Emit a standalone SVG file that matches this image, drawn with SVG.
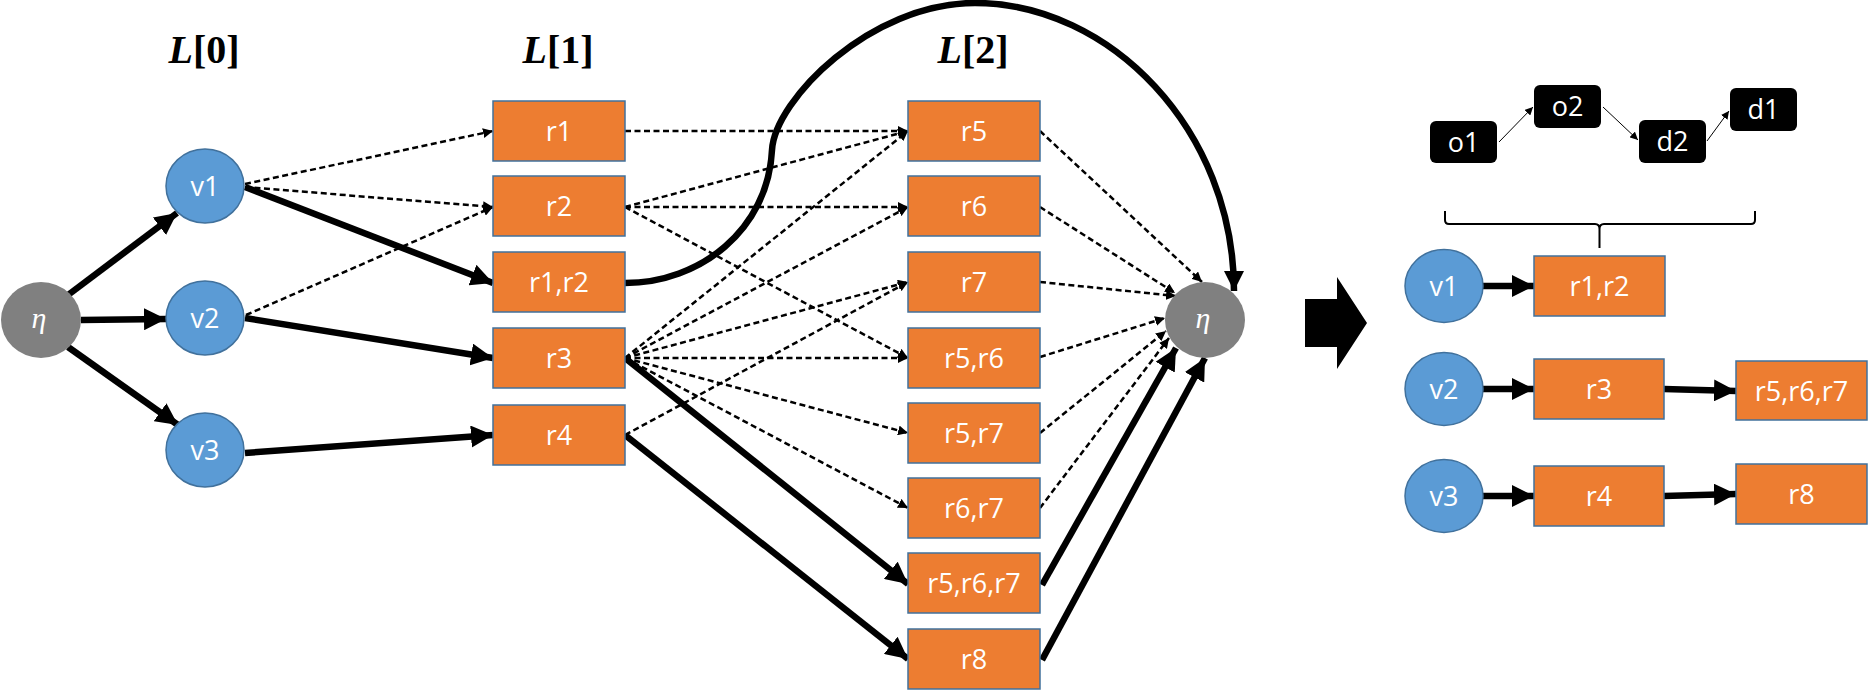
<svg xmlns="http://www.w3.org/2000/svg" width="1868" height="698" viewBox="0 0 1868 698">
<style>
.lbl{font-family:"Open Sans","Liberation Sans",sans-serif;font-size:27px;fill:#fff;text-anchor:middle}
.eta{font-family:"Liberation Serif",serif;font-style:italic;font-size:30px;fill:#fff;text-anchor:middle}
.lev{font-family:"Liberation Serif",serif;font-weight:bold;font-size:40px;fill:#000;text-anchor:middle}
.box{fill:#ED7D31;stroke:#41719C;stroke-width:1.5}
.vtx{fill:#5B9BD5;stroke:#41719C;stroke-width:1.5}
.sink{fill:#808080}
.blk{fill:#000}
.thick{fill:none;stroke:#000;stroke-width:6.5;marker-end:url(#mThick)}
.dash{fill:none;stroke:#000;stroke-width:2.5;stroke-dasharray:6 3.5;marker-end:url(#mDash)}
.thin{fill:none;stroke:#000;stroke-width:1;marker-end:url(#mThin)}
.curve{fill:none;stroke:#000;stroke-width:6.5;marker-end:url(#mCurve)}
</style>
<defs>
<marker id="mThick" markerUnits="userSpaceOnUse" viewBox="0 0 22 22" refX="22" refY="11" markerWidth="22" markerHeight="22" orient="auto"><path d="M0,0 L22,11 L0,22 z" fill="#000"/></marker>
<marker id="mCurve" markerUnits="userSpaceOnUse" viewBox="0 0 20 20" refX="20" refY="10" markerWidth="20" markerHeight="20" orient="auto"><path d="M0,0 L20,10 L0,20 z" fill="#000"/></marker>
<marker id="mDash" markerUnits="userSpaceOnUse" viewBox="0 0 10 10" refX="10" refY="5" markerWidth="10" markerHeight="10" orient="auto"><path d="M0,0 L10,5 L0,10 z" fill="#000"/></marker>
<marker id="mThin" markerUnits="userSpaceOnUse" viewBox="0 0 8 8" refX="8" refY="4" markerWidth="8" markerHeight="8" orient="auto"><path d="M0,0 L8,4 L0,8 z" fill="#000"/></marker>
</defs>
<rect width="1868" height="698" fill="#fff"/>

<g id="levels">
<text class="lev" x="204" y="63"><tspan font-style="italic">L</tspan>[0]</text>
<text class="lev" x="558" y="63"><tspan font-style="italic">L</tspan>[1]</text>
<text class="lev" x="973" y="63"><tspan font-style="italic">L</tspan>[2]</text>
</g>

<g id="connectors">
<path class="thick" d="M68,295 L177,213"/>
<path class="thick" d="M81,320 L166,319"/>
<path class="thick" d="M68,347 L178,425"/>
<path class="thick" d="M245,187 L493,283"/>
<path class="thick" d="M245,318 L493,358"/>
<path class="thick" d="M245,453 L493,435"/>
<path class="dash" d="M245,184 L493,131"/>
<path class="dash" d="M245,187 L493,207"/>
<path class="dash" d="M246,315 L493,207"/>
<path class="dash" d="M625,131 L908,131"/>
<path class="dash" d="M625,207 L908,131"/>
<path class="dash" d="M625,207 L908,207"/>
<path class="dash" d="M625,207 L908,358"/>
<path class="dash" d="M625,358 L908,131"/>
<path class="dash" d="M625,358 L908,207"/>
<path class="dash" d="M625,358 L908,282"/>
<path class="dash" d="M625,435 L908,282"/>
<path class="dash" d="M625,358 L908,358"/>
<path class="dash" d="M625,358 L908,433"/>
<path class="dash" d="M625,358 L908,508"/>
<path class="thick" d="M625,358 L908,584"/>
<path class="thick" d="M625,435 L908,659"/>
<path class="curve" d="M625,283 C700,283 768,230 772,150 C775,100 870,3 975,3 C1110,3 1234,130 1234,291"/>
<path class="dash" d="M1040,131 L1202,282"/>
<path class="dash" d="M1040,207 L1175,293"/>
<path class="dash" d="M1040,282 L1176,296"/>
<path class="dash" d="M1040,357 L1165,318"/>
<path class="dash" d="M1040,433 L1166,331"/>
<path class="dash" d="M1040,508 L1169,338"/>
<path class="thick" d="M1042,585 L1176,348"/>
<path class="thick" d="M1042,660 L1205,358"/>
<path class="thin" d="M1499,142 L1533,107"/>
<path class="thin" d="M1603,107 L1638,140"/>
<path class="thin" d="M1707,141 L1729,111"/>
<path class="thick" d="M1483,286 L1534,286"/>
<path class="thick" d="M1483,389 L1534,389"/>
<path class="thick" d="M1664,389 L1736,391"/>
<path class="thick" d="M1483,496 L1534,496"/>
<path class="thick" d="M1664,496 L1736,494"/>
</g>

<g id="eta-src"><ellipse class="sink" cx="41" cy="320" rx="40" ry="38"/><text class="eta" x="39" y="328">η</text></g>
<g id="v1"><ellipse class="vtx" cx="205" cy="186" rx="39" ry="37"/><text class="lbl" x="205" y="196">v1</text></g>
<g id="v2"><ellipse class="vtx" cx="205" cy="318" rx="39" ry="37"/><text class="lbl" x="205" y="328">v2</text></g>
<g id="v3"><ellipse class="vtx" cx="205" cy="450" rx="39" ry="37"/><text class="lbl" x="205" y="460">v3</text></g>

<g id="r1"><rect class="box" x="493" y="101" width="132" height="60"/><text class="lbl" x="559" y="141">r1</text></g>
<g id="r2"><rect class="box" x="493" y="176" width="132" height="60"/><text class="lbl" x="559" y="216">r2</text></g>
<g id="r1r2"><rect class="box" x="493" y="252" width="132" height="60"/><text class="lbl" x="559" y="292">r1,r2</text></g>
<g id="r3"><rect class="box" x="493" y="328" width="132" height="60"/><text class="lbl" x="559" y="368">r3</text></g>
<g id="r4"><rect class="box" x="493" y="405" width="132" height="60"/><text class="lbl" x="559" y="445">r4</text></g>

<g id="r5"><rect class="box" x="908" y="101" width="132" height="60"/><text class="lbl" x="974" y="141">r5</text></g>
<g id="r6"><rect class="box" x="908" y="176" width="132" height="60"/><text class="lbl" x="974" y="216">r6</text></g>
<g id="r7"><rect class="box" x="908" y="252" width="132" height="60"/><text class="lbl" x="974" y="292">r7</text></g>
<g id="r5r6"><rect class="box" x="908" y="328" width="132" height="60"/><text class="lbl" x="974" y="368">r5,r6</text></g>
<g id="r5r7"><rect class="box" x="908" y="403" width="132" height="60"/><text class="lbl" x="974" y="443">r5,r7</text></g>
<g id="r6r7"><rect class="box" x="908" y="478" width="132" height="60"/><text class="lbl" x="974" y="518">r6,r7</text></g>
<g id="r5r6r7"><rect class="box" x="908" y="553" width="132" height="60"/><text class="lbl" x="974" y="593">r5,r6,r7</text></g>
<g id="r8"><rect class="box" x="908" y="629" width="132" height="60"/><text class="lbl" x="974" y="669">r8</text></g>

<g id="eta-sink"><ellipse class="sink" cx="1205" cy="320" rx="40" ry="38"/><text class="eta" x="1203" y="328">η</text></g>

<g id="big-arrow"><path class="blk" d="M1305,299 L1337,299 L1337,277 L1367,323 L1337,369 L1337,347 L1305,347 z"/></g>

<g id="o1"><rect class="blk" x="1430" y="121" width="67" height="42" rx="6"/><text class="lbl" x="1463.5" y="152">o1</text></g>
<g id="o2"><rect class="blk" x="1534" y="85" width="67" height="43" rx="6"/><text class="lbl" x="1567.5" y="116">o2</text></g>
<g id="d2"><rect class="blk" x="1639" y="120" width="67" height="43" rx="6"/><text class="lbl" x="1672.5" y="151">d2</text></g>
<g id="d1"><rect class="blk" x="1730" y="88" width="67" height="43" rx="6"/><text class="lbl" x="1763.5" y="119">d1</text></g>
<g id="brace"><path d="M1445,211 L1445,220 Q1445,224 1449,224 L1595,224 Q1599.5,224 1599.5,229 L1599.5,248 M1599.5,229 Q1599.5,224 1604,224 L1751,224 Q1755,224 1755,220 L1755,211" fill="none" stroke="#000" stroke-width="2"/></g>

<g id="v1-r"><ellipse class="vtx" cx="1444" cy="286" rx="39" ry="36.5"/><text class="lbl" x="1444" y="296">v1</text></g>
<g id="r1r2-r"><rect class="box" x="1534" y="256" width="131" height="60"/><text class="lbl" x="1599.5" y="296">r1,r2</text></g>
<g id="v2-r"><ellipse class="vtx" cx="1444" cy="389" rx="39" ry="36.5"/><text class="lbl" x="1444" y="399">v2</text></g>
<g id="r3-r"><rect class="box" x="1534" y="359" width="130" height="60"/><text class="lbl" x="1599" y="399">r3</text></g>
<g id="r5r6r7-r"><rect class="box" x="1736" y="361" width="131" height="59"/><text class="lbl" x="1801.5" y="401">r5,r6,r7</text></g>
<g id="v3-r"><ellipse class="vtx" cx="1444" cy="496" rx="39" ry="36.5"/><text class="lbl" x="1444" y="506">v3</text></g>
<g id="r4-r"><rect class="box" x="1534" y="466" width="130" height="60"/><text class="lbl" x="1599" y="506">r4</text></g>
<g id="r8-r"><rect class="box" x="1736" y="464" width="131" height="60"/><text class="lbl" x="1801.5" y="504">r8</text></g>
</svg>
